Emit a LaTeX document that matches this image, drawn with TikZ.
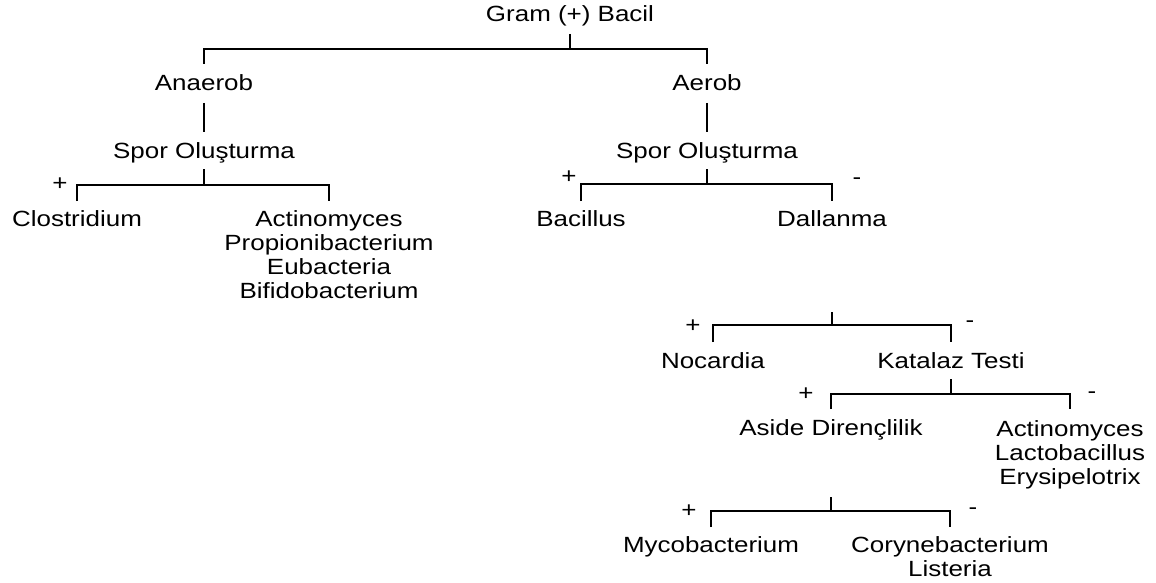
\documentclass[tikz,border=0pt]{standalone}
\usepackage{fontspec}
\setmainfont{Liberation Sans}[FakeStretch=1.18]
\begin{document}
\begin{tikzpicture}[x=1pt,y=-1pt,
  lbl/.style={font=\fontsize{22}{24}\selectfont, inner sep=0pt, anchor=base, align=center},
  sgn/.style={font=\fontsize{22}{24}\selectfont, inner sep=0pt, anchor=center},
  conn/.style={line width=1.5pt, line cap=butt}]
\useasboundingbox (0,0) rectangle (1156,583);
% nodes (multi-line nodes placed at the baseline of their last line)
\node[lbl] (root) at (570,22) {Gram (+) Bacil};
\node[lbl] (an) at (204,91) {Anaerob};
\node[lbl] (ae) at (707,91) {Aerob};
\node[lbl] (s1) at (204,158) {Spor Oluşturma};
\node[lbl] (s2) at (707,158) {Spor Oluşturma};
\node[lbl] (clo) at (77,226) {Clostridium};
\node[lbl] (act1) at (329,298) {Actinomyces\\Propionibacterium\\Eubacteria\\Bifidobacterium};
\node[lbl] (bac) at (581,226) {Bacillus};
\node[lbl] (dal) at (832,226) {Dallanma};
\node[lbl] (noc) at (713,368) {Nocardia};
\node[lbl] (kat) at (951,368) {Katalaz Testi};
\node[lbl] (asd) at (831,435) {Aside Dirençlilik};
\node[lbl] (act2) at (1070,484) {Actinomyces\\Lactobacillus\\Erysipelotrix};
\node[lbl] (myc) at (711,552) {Mycobacterium};
\node[lbl] (cor) at (950,576) {Corynebacterium\\Listeria};
% signs
\node[sgn] (p1) at (60,184) {+};
\node[sgn] (p2) at (569,177) {+};
\node[sgn] (m2) at (857,181) {-};
\node[sgn] (p3) at (693,326) {+};
\node[sgn] (m3) at (970,324) {-};
\node[sgn] (p4) at (806,394) {+};
\node[sgn] (m4) at (1092,395) {-};
\node[sgn] (p5) at (689,511) {+};
\node[sgn] (m5) at (973,511) {-};
% connectors
\draw[conn] (root |- 0,34) -- (root |- 0,49);
\draw[conn] (an |- 0,64) -- (an |- 0,49) -- (ae |- 0,49) -- (ae |- 0,64);
\draw[conn] (an |- 0,103) -- (s1 |- 0,132);
\draw[conn] (ae |- 0,103) -- (s2 |- 0,132);
\draw[conn] (s1 |- 0,169) -- (s1 |- 0,185);
\draw[conn] (clo |- 0,201) -- (clo |- 0,185) -- (act1 |- 0,185) -- (act1 |- 0,201);
\draw[conn] (s2 |- 0,169) -- (s2 |- 0,184);
\draw[conn] (bac |- 0,201) -- (bac |- 0,184) -- (dal |- 0,184) -- (dal |- 0,201);
\draw[conn] (dal |- 0,312) -- (dal |- 0,325);
\draw[conn] (noc |- 0,342) -- (noc |- 0,325) -- (kat |- 0,325) -- (kat |- 0,342);
\draw[conn] (kat |- 0,379) -- (kat |- 0,394);
\draw[conn] (asd |- 0,409) -- (asd |- 0,394) -- (act2 |- 0,394) -- (act2 |- 0,409);
\draw[conn] (asd |- 0,497) -- (asd |- 0,511);
\draw[conn] (myc |- 0,527) -- (myc |- 0,511) -- (cor |- 0,511) -- (cor |- 0,527);
\end{tikzpicture}
\end{document}
